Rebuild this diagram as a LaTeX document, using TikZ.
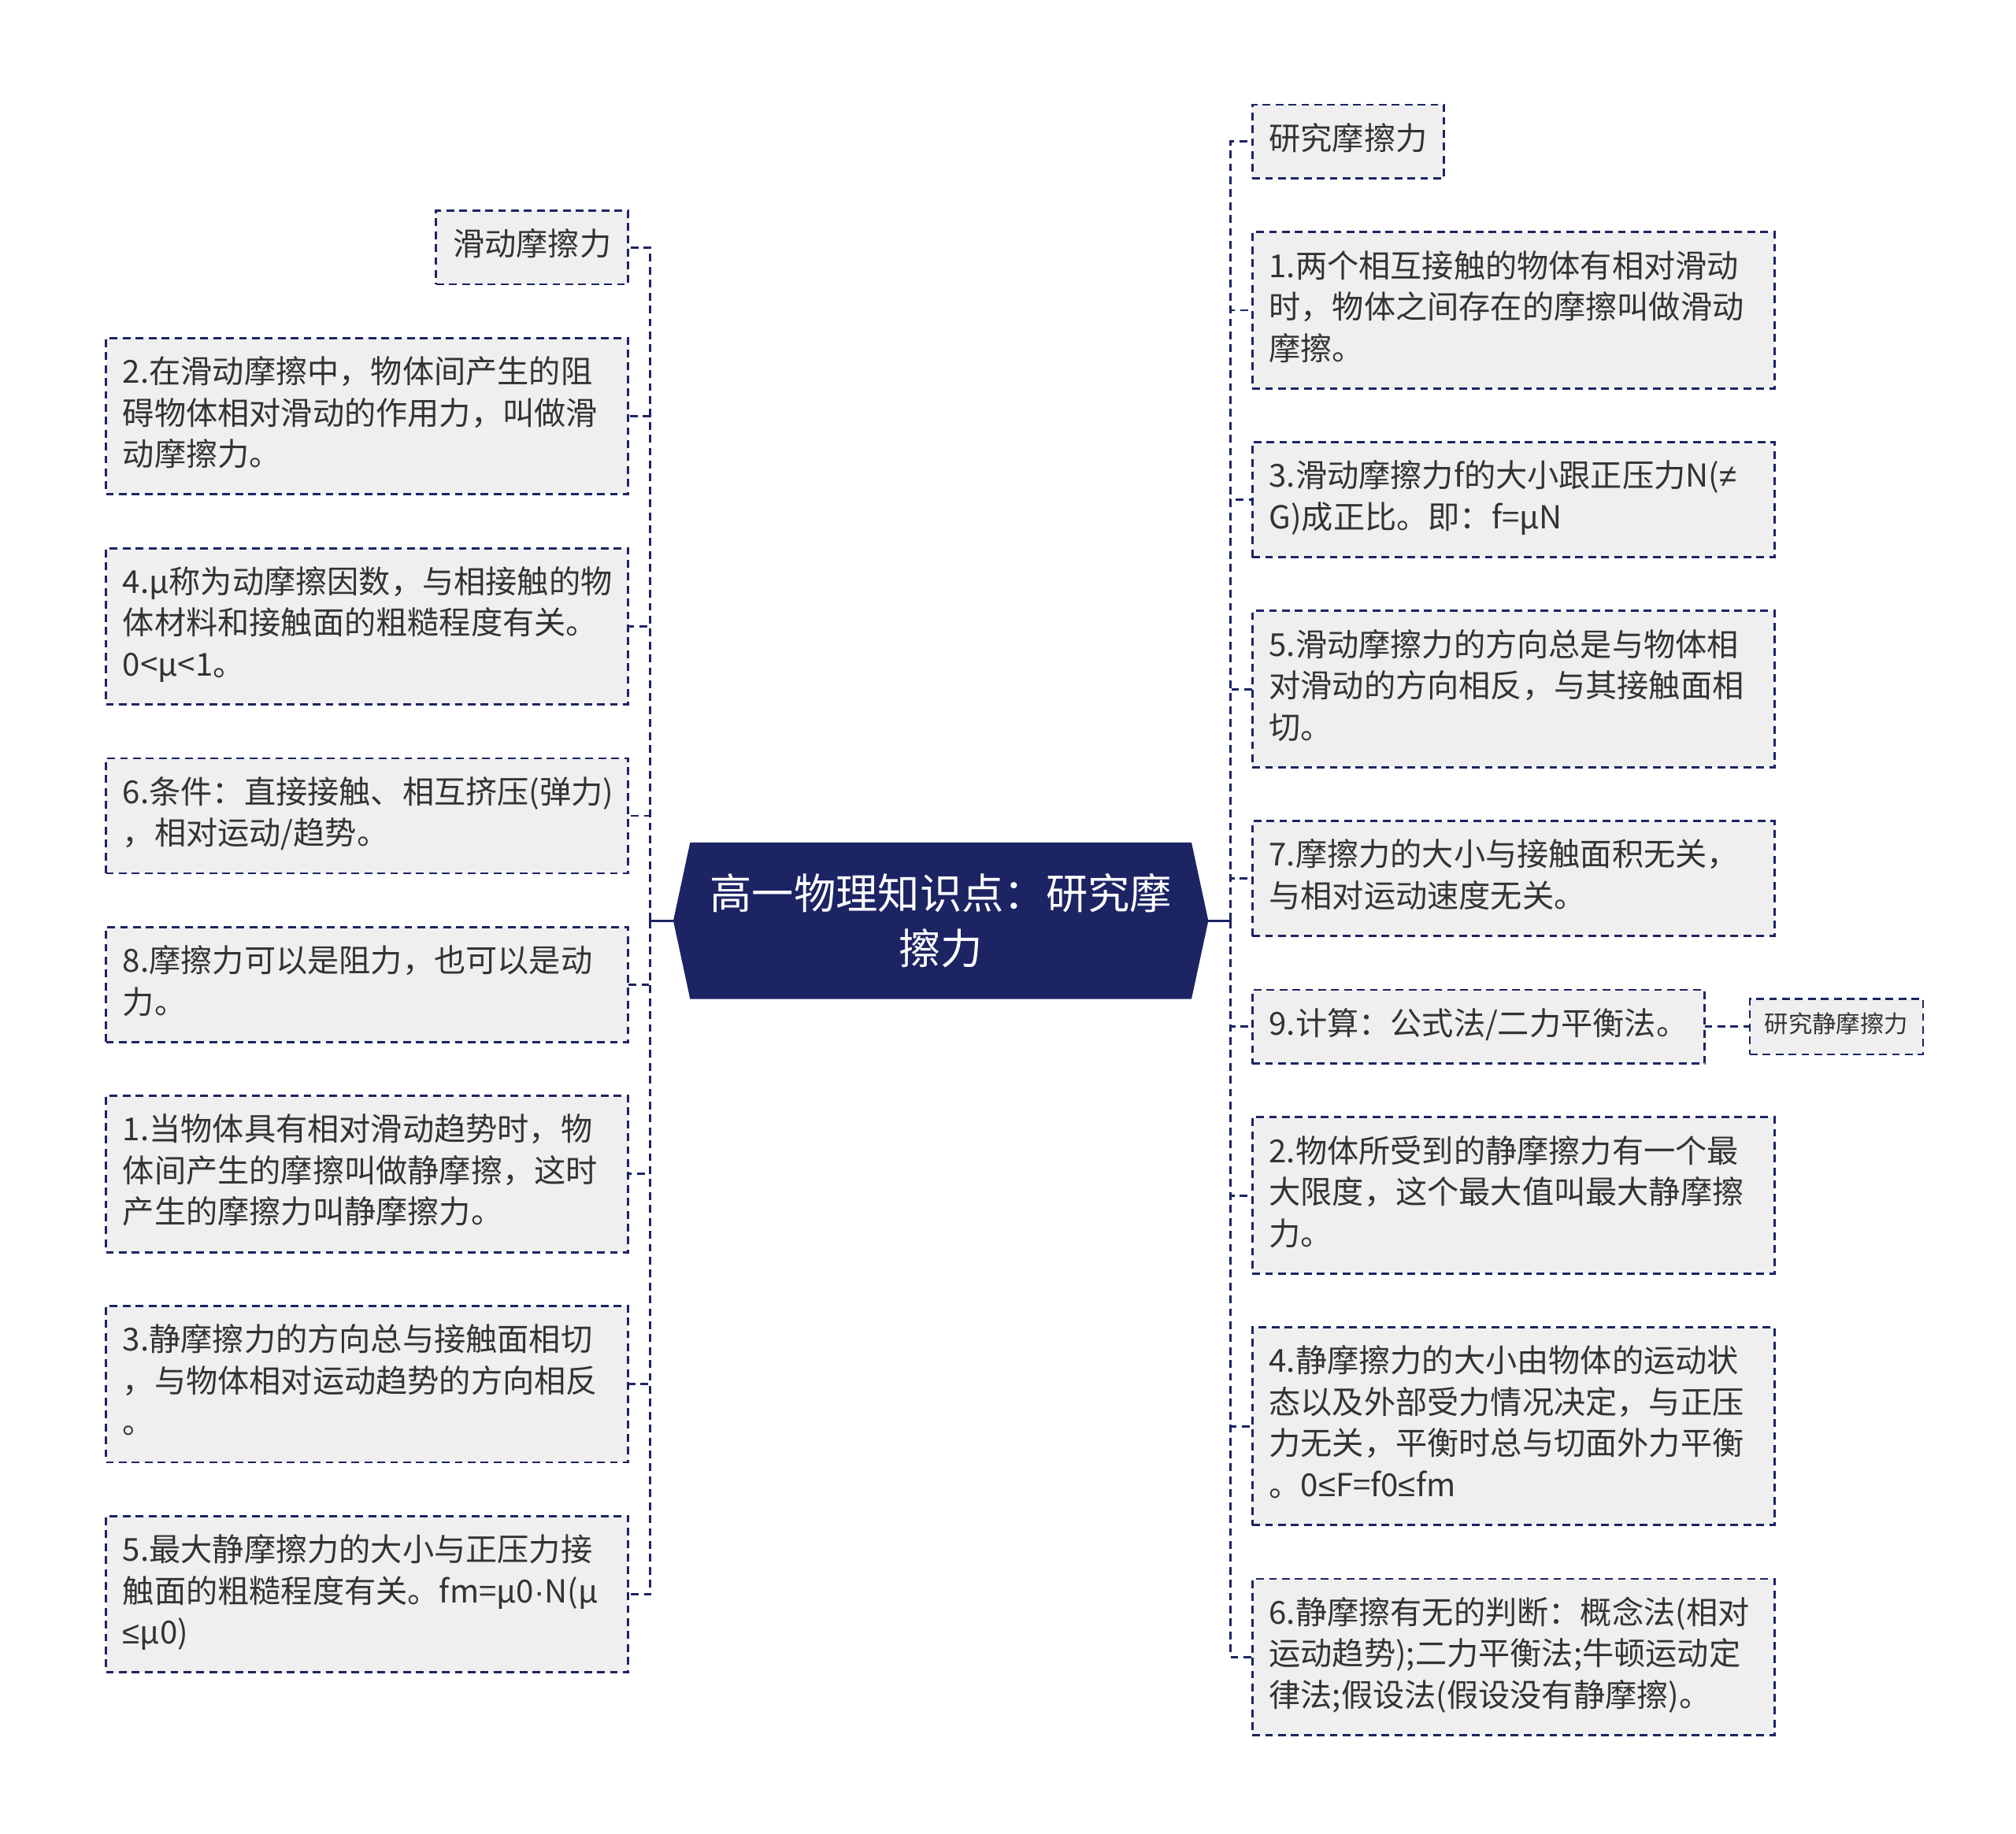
\documentclass[tikz,border=0pt]{standalone}
\usepackage{fontspec}
\newfontfamily\cjk{Noto Sans CJK SC}
\newfontfamily\symb{Liberation Sans}
\usetikzlibrary{positioning, backgrounds}
\definecolor{mapnavy}{HTML}{1C2464}
\definecolor{leafgray}{HTML}{EFEFEF}
\definecolor{leaftext}{HTML}{333333}
\newcommand{\lesym}{{\symb ≤}}
\newcommand{\dotsym}{{\symb ·}}
\tikzset{leaf/.style={draw=mapnavy, rectangle, line width=1.7pt, dash pattern=on 6pt off 4pt, fill=leafgray, text=leaftext,
    outer sep=0pt, inner xsep=13pt, inner ysep=12.5pt, font=\cjk\fontsize{24.5}{32}\selectfont,
    execute at begin node={\leavevmode\strut}, execute at end node=\strut},
  wide leaf/.style={leaf, text width=378pt, align=left},
  small leaf/.style={leaf, inner xsep=11.5pt, inner ysep=9.5pt, font=\cjk\fontsize{18.5}{24}\selectfont},
  root/.style={rectangle, inner sep=0pt, outer sep=0pt, minimum width=388pt, minimum height=121pt, align=center, text=white,
    font=\cjk\fontsize{32.5}{43}\selectfont},
  link/.style={draw=mapnavy, line width=1.7pt, dash pattern=on 6pt off 4pt}}

\begin{document}
\begin{tikzpicture}[x=1pt, y=-1pt]
      \useasboundingbox (0,0) rectangle (1560,1419);

      \node[root] (root) at (728,712.5) {高一物理知识点：研究摩\\擦力};
      \begin{scope}[on background layer]
            \fill[mapnavy] (root.north west) -- (root.north east) -- ([xshift=13pt]root.east) -- (root.south east)
                  -- (root.south west) -- ([xshift=-13pt]root.west) -- cycle;
      \end{scope}
      \coordinate (root-left) at ([xshift=-13pt]root.west);
      \coordinate (root-right) at ([xshift=13pt]root.east);
      \coordinate (trunk-left) at (503,712.5);
      \coordinate (trunk-right) at (952,712.5);

      % right branch
      \node[leaf, anchor=north west] (r-title) at (969,81) {研究摩擦力};
      \node[wide leaf, below=41.6pt of r-title.south west, anchor=north west] (r-1) {1.两个相互接触的物体有相对滑动\\时，物体之间存在的摩擦叫做滑动\\摩擦。};
      \node[wide leaf, below=41.6pt of r-1.south west, anchor=north west] (r-3) {3.滑动摩擦力f的大小跟正压力N({\symb ≠}\\G)成正比。即：f=μN};
      \node[wide leaf, below=41.6pt of r-3.south west, anchor=north west] (r-5) {5.滑动摩擦力的方向总是与物体相\\对滑动的方向相反，与其接触面相\\切。};
      \node[wide leaf, below=41.6pt of r-5.south west, anchor=north west] (r-7) {7.摩擦力的大小与接触面积无关，\\与相对运动速度无关。};
      \node[leaf, below=41.6pt of r-7.south west, anchor=north west] (r-9) {9.计算：公式法/二力平衡法。};
      \node[small leaf, right=35pt of r-9] (r-static) {研究静摩擦力};
      \node[wide leaf, below=41.6pt of r-9.south west, anchor=north west] (r-2) {2.物体所受到的静摩擦力有一个最\\大限度，这个最大值叫最大静摩擦\\力。};
      \node[wide leaf, below=41.6pt of r-2.south west, anchor=north west] (r-4) {4.静摩擦力的大小由物体的运动状\\态以及外部受力情况决定，与正压\\力无关，平衡时总与切面外力平衡\\。0\lesym F=f0\lesym fm};
      \node[wide leaf, below=41.6pt of r-4.south west, anchor=north west] (r-6) {6.静摩擦有无的判断：概念法(相对\\运动趋势);二力平衡法;牛顿运动定\\律法;假设法(假设没有静摩擦)。};

      % left branch
      \node[leaf, anchor=north east] (l-title) at (486,163) {滑动摩擦力};
      \node[wide leaf, below=41.6pt of l-title.south east, anchor=north east] (l-2) {2.在滑动摩擦中，物体间产生的阻\\碍物体相对滑动的作用力，叫做滑\\动摩擦力。};
      \node[wide leaf, below=41.6pt of l-2.south east, anchor=north east] (l-4) {4.μ称为动摩擦因数，与相接触的物\\体材料和接触面的粗糙程度有关。\\0<μ<1。};
      \node[wide leaf, below=41.6pt of l-4.south east, anchor=north east] (l-6) {6.条件：直接接触、相互挤压(弹力)\\，相对运动/趋势。};
      \node[wide leaf, below=41.6pt of l-6.south east, anchor=north east] (l-8) {8.摩擦力可以是阻力，也可以是动\\力。};
      \node[wide leaf, below=41.6pt of l-8.south east, anchor=north east] (l-1) {1.当物体具有相对滑动趋势时，物\\体间产生的摩擦叫做静摩擦，这时\\产生的摩擦力叫静摩擦力。};
      \node[wide leaf, below=41.6pt of l-1.south east, anchor=north east] (l-3) {3.静摩擦力的方向总与接触面相切\\，与物体相对运动趋势的方向相反\\。};
      \node[wide leaf, below=41.6pt of l-3.south east, anchor=north east] (l-5) {5.最大静摩擦力的大小与正压力接\\触面的粗糙程度有关。fm=μ0\dotsym N(μ\\\lesym μ0)};

      % connectors
      \draw[mapnavy, line width=1.7pt] (root-left) -- (trunk-left);
      \draw[mapnavy, line width=1.7pt] (root-right) -- (trunk-right);
      \foreach \n in {r-title, r-1, r-3, r-5, r-7, r-9, r-2, r-4, r-6}
            \draw[link] (trunk-right) |- (\n.west);
      \foreach \n in {l-title, l-2, l-4, l-6, l-8, l-1, l-3, l-5}
            \draw[link] (trunk-left) |- (\n.east);
      \draw[link] (r-9) -- (r-static);
\end{tikzpicture}
\end{document}
